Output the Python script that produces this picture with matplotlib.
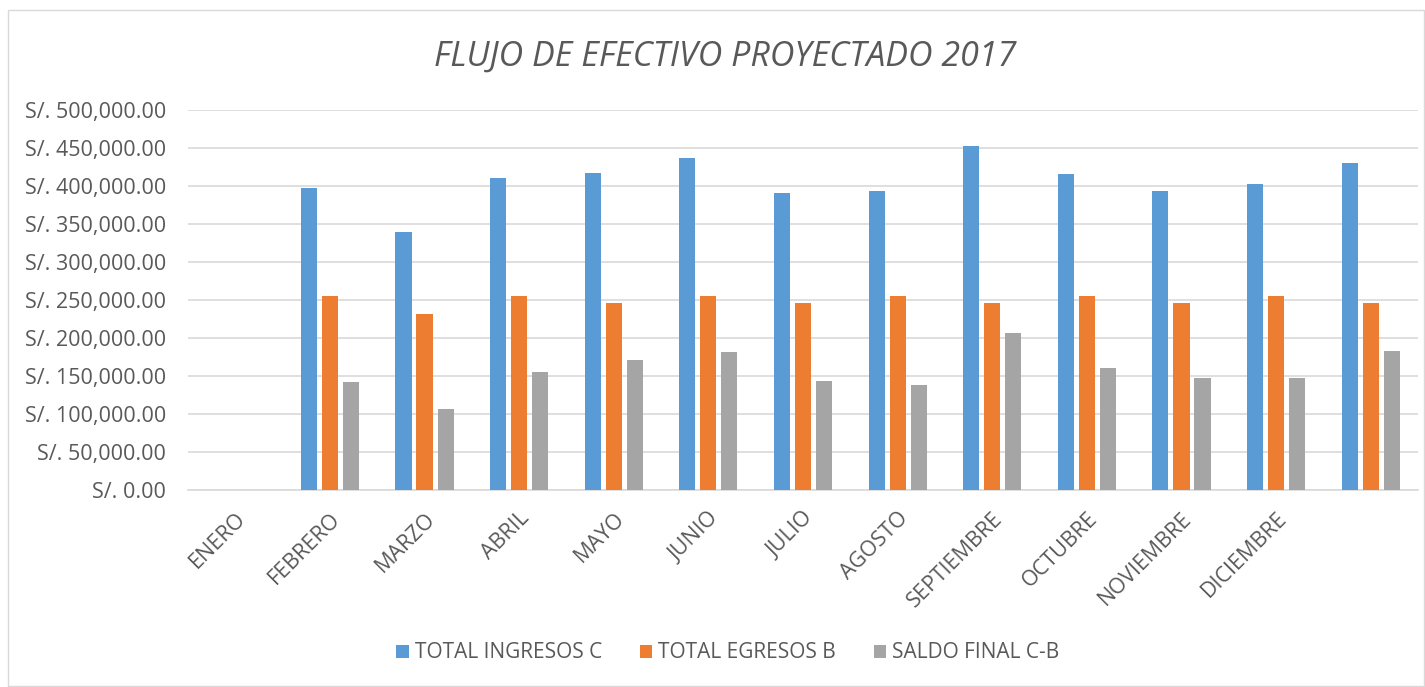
import matplotlib
matplotlib.use("Agg")
import matplotlib.pyplot as plt
import numpy as np
from matplotlib.ticker import FuncFormatter, MultipleLocator
from matplotlib.patches import Rectangle

plt.rcParams['font.family'] = ['Open Sans', 'DejaVu Sans']

categories = ["ENERO", "FEBRERO", "MARZO", "ABRIL", "MAYO", "JUNIO", "JULIO",
              "AGOSTO", "SEPTIEMBRE", "OCTUBRE", "NOVIEMBRE", "DICIEMBRE", ""]
ingresos = [np.nan, 397500, 340000, 410000, 417000, 437000, 391000,
            393500, 453000, 416000, 393000, 402500, 430000]
egresos = [np.nan, 255000, 231000, 255000, 246000, 255000, 246000,
           255000, 246000, 255000, 246000, 255000, 246000]
saldo = [np.nan, 142500, 107000, 155000, 171000, 182000, 144000,
         138500, 207000, 161000, 147000, 147500, 183000]
series_names = ["TOTAL INGRESOS C", "TOTAL EGRESOS B", "SALDO FINAL C-B"]
colors = ["#5B9BD5", "#ED7D31", "#A5A5A5"]
title = "FLUJO DE EFECTIVO PROYECTADO 2017"

fig = plt.figure(figsize=(14.25, 6.87), dpi=100)
fig.patches.append(Rectangle((8/1425, 0.002), 1 - 8/1425 - 0.001, 1 - 10/687 - 0.002,
                             transform=fig.transFigure, fill=False, edgecolor="#D9D9D9", lw=1))
ax = fig.add_axes([188/1425, (687-490)/687, (1418-188)/1425, (490-110)/687])

x = np.arange(len(categories))
w = 0.17
step = 0.222
for i, (vals, name, c) in enumerate(zip([ingresos, egresos, saldo], series_names, colors)):
    ax.bar(x + (i - 1) * step, vals, width=w, color=c, label=name, zorder=3)

ax.set_xlim(-0.5, len(categories) - 0.5)
ax.set_ylim(0, 500000)
ax.yaxis.set_major_locator(MultipleLocator(50000))
ax.yaxis.set_major_formatter(FuncFormatter(lambda v, p: "S/. {:,.2f}".format(v)))
ax.grid(axis='y', color="#D9D9D9", lw=1.2, zorder=0)
for s in ["top", "right", "left"]:
    ax.spines[s].set_visible(False)
ax.spines["bottom"].set_color("#D9D9D9")
ax.spines["bottom"].set_linewidth(1.2)
ax.tick_params(axis='both', length=0, colors="#595959", labelsize=15.5)
ax.tick_params(axis='y', pad=16)
ax.set_xticks(x)
ax.set_xticklabels(categories, rotation=45, ha='right', rotation_mode='anchor')
ax.tick_params(axis='x', pad=13)

fig.text(725/1425, 1 - 57/687, title, ha='center', va='center', fontsize=24.5,
         style='italic', color="#595959")

fig.legend(loc='center', bbox_to_anchor=(728/1425, 1 - 653/687), ncol=3, frameon=False,
           fontsize=15, labelcolor="#595959", handlelength=0.6, handleheight=0.6,
           handletextpad=0.3, columnspacing=1.8)

fig.savefig("out.png", dpi=100, facecolor="white")
